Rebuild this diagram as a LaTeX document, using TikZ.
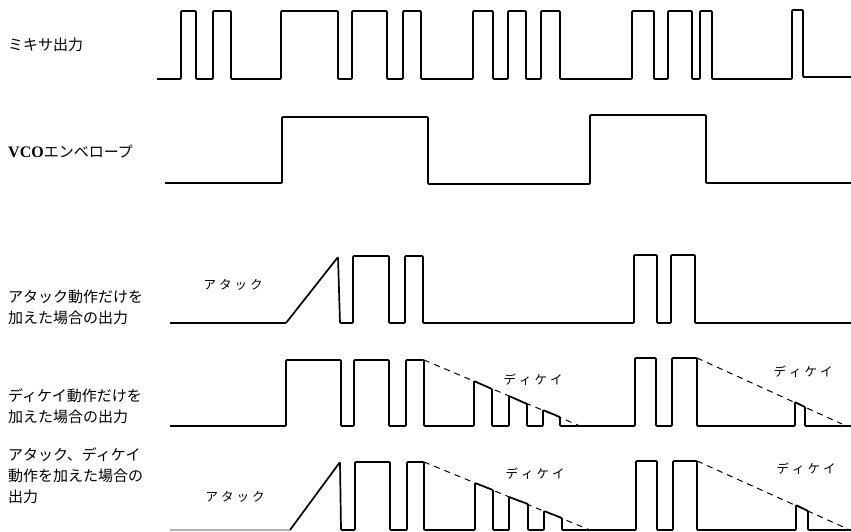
\documentclass[tikz,border=0pt]{standalone}
\usepackage{fontspec}
\newfontfamily\jp{Noto Sans CJK JP}
\newfontfamily\vcofont{Liberation Serif}
\begin{document}
\begin{tikzpicture}[x=1pt,y=-1pt,
  wave/.style={line width=1.7pt, line join=round, rounded corners=0.8pt},
  env/.style={line width=1pt, dash pattern=on 6pt off 5pt},
  lbl/.style={anchor=west, align=left, font=\jp\fontsize{15}{21}\selectfont, inner sep=0pt},
  wlbl/.style={font=\jp\fontsize{12.5}{14}\selectfont, inner sep=0pt}]
\useasboundingbox (0,0) rectangle (851,532);
\fill[white] (0,0) rectangle (851,532);

% labels
\node[lbl] (l1) at (8,45) {ミキサ出力};
\node[lbl] (l2) at (8,152) {{\vcofont\bfseries\fontsize{16}{18}\selectfont VCO}エンベロープ};
\node[lbl] (l3) at (8,307) {アタック動作だけを\\加えた場合の出力};
\node[lbl] (l4) at (8,406) {ディケイ動作だけを\\加えた場合の出力};
\node[lbl] (l5) at (8,476) {アタック、ディケイ\\動作を加えた場合の\\出力};

% row 1: mixer output
\draw[wave] (157,79) -- (181,79) -- (181,11) -- (196,11) -- (196,79) -- (213,79) -- (213,11) -- (231,11) -- (231,79)
  -- (281,79) -- (281,11) -- (338,11) -- (338,79) -- (352,79) -- (352,11) -- (387,11) -- (387,79)
  -- (403,79) -- (403,11) -- (421,11) -- (421,79) -- (473,79) -- (473,11) -- (493,11) -- (493,79)
  -- (508,79) -- (508,11) -- (526,11) -- (526,79) -- (541,79) -- (541,11) -- (560,11) -- (560,79)
  -- (632,79) -- (632,11) -- (654,11) -- (654,79) -- (668,79) -- (668,11) -- (692,11) -- (692,79)
  -- (700,79) -- (700,11) -- (712,11) -- (712,79) -- (792,79) -- (792,10) -- (803,10) -- (803,77) -- (851,77);

% row 2: VCO envelope
\draw[wave] (165,183) -- (282,183) -- (282,117) -- (428,117) -- (428,184) -- (590,184) -- (590,115) -- (706,115) -- (706,183) -- (851,183);

% row 3: attack only
\draw[wave] (170,323) -- (286,323) -- (338,257) -- (340,323) -- (353,323) -- (353,256) -- (389,256) -- (389,323)
  -- (405,323) -- (405,256) -- (423,256) -- (423,323) -- (634,323) -- (634,255) -- (657,255) -- (657,323)
  -- (671,323) -- (671,255) -- (695,255) -- (695,323) -- (851,323);
\node[wlbl] (a1) at (233,285) {ア\hspace{3pt}タ\hspace{3pt}ッ\hspace{3pt}ク};

% row 4: decay only
\draw[wave] (170,426) -- (286,426) -- (286,360) -- (341,360) -- (341,426) -- (354,426) -- (354,360) -- (389,360) -- (389,426)
  -- (406,426) -- (406,360) -- (424,360) -- (424,426) -- (474,426) -- (474,381) -- (492,389) -- (492,426)
  -- (509,426) -- (509,396) -- (527,404) -- (527,426) -- (543,426) -- (543,410) -- (560,417) -- (560,426)
  -- (635,426) -- (635,358) -- (656,358) -- (656,426) -- (672,426) -- (672,358) -- (697,358) -- (697,426)
  -- (795,426) -- (795,402) -- (805,407) -- (805,426) -- (851,426);
\coordinate (d1s) at (424,360); \coordinate (d1e) at (580,426);
\coordinate (d2s) at (697,358); \coordinate (d2e) at (842,424);
\draw[env] (d1s) -- (d1e);
\draw[env] (d2s) -- (d2e);
\node[wlbl] (k1) at (533,380) {デ\hspace{3pt}ィ\hspace{3pt}ケ\hspace{3pt}イ};
\node[wlbl] (k2) at (803,372) {デ\hspace{3pt}ィ\hspace{3pt}ケ\hspace{3pt}イ};

% row 5: attack and decay
\draw[gray!60, line width=1.2pt] (170,530) -- (290,530);
\draw[wave] (290,530) -- (340,462) -- (341,530) -- (355,530) -- (355,462) -- (390,462) -- (390,530)
  -- (407,530) -- (407,462) -- (424,462) -- (424,530) -- (475,530) -- (475,483) -- (493,490) -- (493,530)
  -- (509,530) -- (509,497) -- (528,504) -- (528,530) -- (544,530) -- (544,511) -- (562,518) -- (562,530)
  -- (636,530) -- (636,461) -- (657,461) -- (657,530) -- (673,530) -- (673,461) -- (697,461) -- (697,530)
  -- (796,530) -- (796,505) -- (808,511) -- (808,530) -- (851,530);
\coordinate (d3s) at (424,462); \coordinate (d3e) at (590,530);
\coordinate (d4s) at (697,461); \coordinate (d4e) at (850,530);
\draw[env] (d3s) -- (d3e);
\draw[env] (d4s) -- (d4e);
\node[wlbl] (a2) at (235,497) {ア\hspace{3pt}タ\hspace{3pt}ッ\hspace{3pt}ク};
\node[wlbl] (k3) at (535,474) {デ\hspace{3pt}ィ\hspace{3pt}ケ\hspace{3pt}イ};
\node[wlbl] (k4) at (806,469) {デ\hspace{3pt}ィ\hspace{3pt}ケ\hspace{3pt}イ};
\end{tikzpicture}
\end{document}
